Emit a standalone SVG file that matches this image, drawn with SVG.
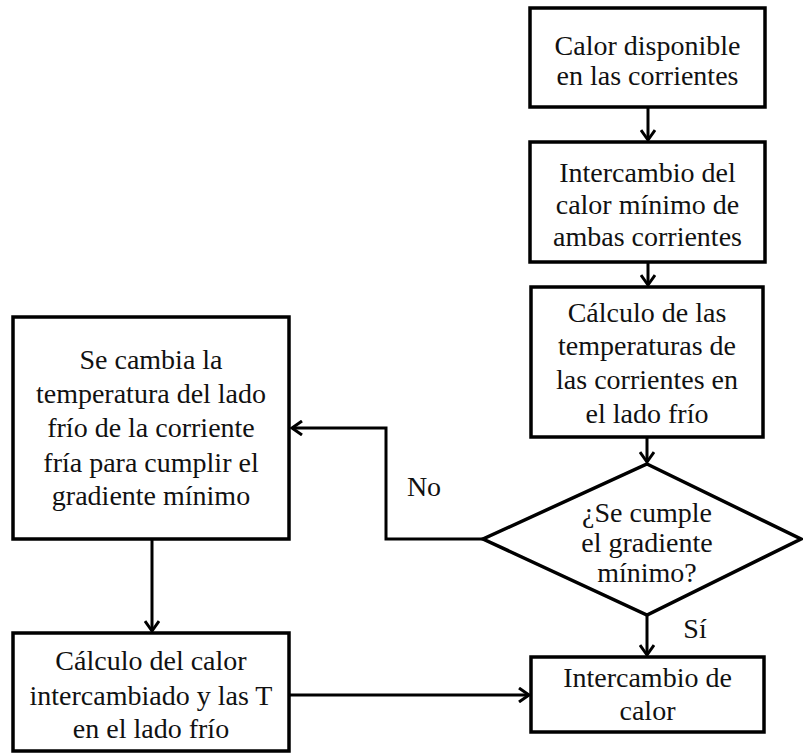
<svg xmlns="http://www.w3.org/2000/svg" width="803" height="754" viewBox="0 0 803 754">
<style>
.box{fill:#fff;stroke:#000;stroke-width:3.5}
.t{font-size:28px;fill:#111;text-anchor:middle}
.c{fill:none;stroke:#000;stroke-width:3}
</style>
<defs>
<marker id="ah" markerUnits="userSpaceOnUse" markerWidth="14" markerHeight="16" refX="11" refY="8" orient="auto">
<path d="M1,1 L11,8 L1,15" fill="none" stroke="#000" stroke-width="3"/>
</marker>
</defs>
<rect width="803" height="754" fill="#fff"/>
<g id="connectors" font-family="Liberation Serif, Times New Roman, serif">
<line class="c" x1="648" y1="107" x2="648" y2="140" marker-end="url(#ah)"/>
<line class="c" x1="648" y1="262" x2="648" y2="285" marker-end="url(#ah)"/>
<line class="c" x1="647" y1="437" x2="647" y2="462" marker-end="url(#ah)"/>
<line class="c" x1="647" y1="615" x2="647" y2="655" marker-end="url(#ah)"/>
<line class="c" x1="152" y1="539" x2="152" y2="631" marker-end="url(#ah)"/>
<line class="c" x1="289" y1="695" x2="529" y2="695" marker-end="url(#ah)"/>
<polyline class="c" points="483,539 386,539 386,428 292,428" marker-end="url(#ah)"/>
<text class="t" x="424" y="496">No</text>
<text class="t" x="695" y="638">Sí</text>
</g>
<g id="n1" font-family="Liberation Serif, Times New Roman, serif">
<rect class="box" x="530" y="8" width="235" height="99"/>
<text class="t" x="647.5" y="55">Calor disponible</text>
<text class="t" x="647.5" y="85">en las corrientes</text>
</g>
<g id="n2" font-family="Liberation Serif, Times New Roman, serif">
<rect class="box" x="530" y="142" width="235" height="120"/>
<text class="t" x="647.5" y="182">Intercambio del</text>
<text class="t" x="647.5" y="214">calor mínimo de</text>
<text class="t" x="647.5" y="246">ambas corrientes</text>
</g>
<g id="n3" font-family="Liberation Serif, Times New Roman, serif">
<rect class="box" x="531" y="287" width="232" height="150"/>
<text class="t" x="647" y="322">Cálculo de las</text>
<text class="t" x="647" y="355">temperaturas de</text>
<text class="t" x="647" y="389">las corrientes en</text>
<text class="t" x="647" y="423">el lado frío</text>
</g>
<g id="n4" font-family="Liberation Serif, Times New Roman, serif">
<polygon class="box" points="647,464 801,539 647,615 483,539"/>
<text class="t" x="647" y="522">¿Se cumple</text>
<text class="t" x="647" y="552">el gradiente</text>
<text class="t" x="647" y="582">mínimo?</text>
</g>
<g id="n5" font-family="Liberation Serif, Times New Roman, serif">
<rect class="box" x="13" y="317" width="276" height="222"/>
<text class="t" x="151" y="369">Se cambia la</text>
<text class="t" x="151" y="403">temperatura del lado</text>
<text class="t" x="151" y="437">frío de la corriente</text>
<text class="t" x="151" y="472">fría para cumplir el</text>
<text class="t" x="151" y="505">gradiente mínimo</text>
</g>
<g id="n6" font-family="Liberation Serif, Times New Roman, serif">
<rect class="box" x="13" y="633" width="276" height="118"/>
<text class="t" x="151" y="670">Cálculo del calor</text>
<text class="t" x="151" y="705">intercambiado y las T</text>
<text class="t" x="151" y="738">en el lado frío</text>
</g>
<g id="n7" font-family="Liberation Serif, Times New Roman, serif">
<rect class="box" x="531" y="657" width="233" height="75"/>
<text class="t" x="647.5" y="687">Intercambio de</text>
<text class="t" x="647.5" y="720">calor</text>
</g>
</svg>
